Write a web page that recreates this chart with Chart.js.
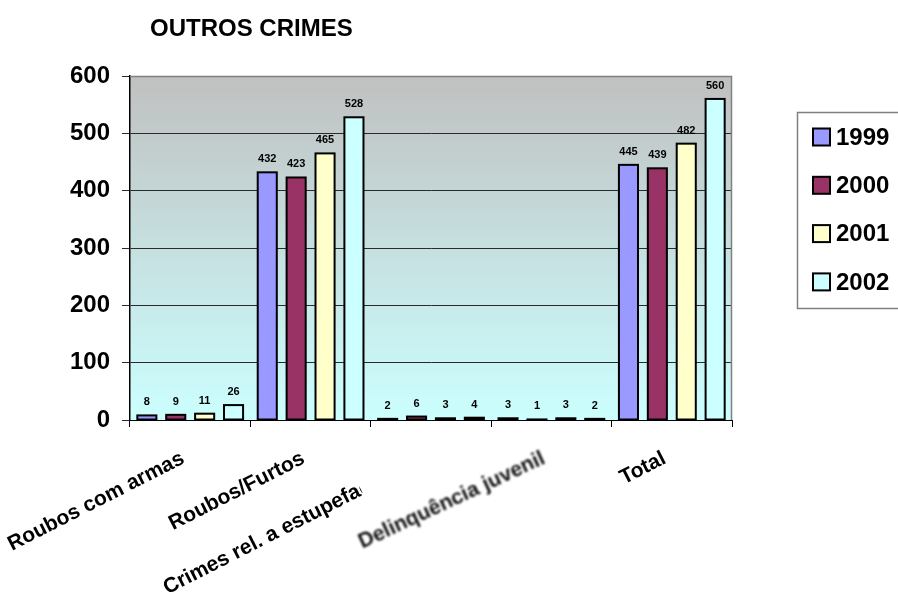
<!DOCTYPE html>
<html>
<head>
<meta charset="utf-8">
<title>OUTROS CRIMES</title>
<script src="https://cdn.jsdelivr.net/npm/chart.js@4/dist/chart.umd.min.js"></script>
<style>
  html, body { margin: 0; padding: 0; background: #ffffff; }
  #wrap { width: 898px; height: 603px; position: relative; }
</style>
</head>
<body>
<div id="wrap"><canvas id="chart"></canvas></div>
<script>
// Categories and yearly counts
const categories = ['Roubos com armas', 'Roubos/Furtos', 'Crimes rel. a estupefacientes', 'Delinquência juvenil', 'Total'];
const years = ['1999', '2000', '2001', '2002'];
const values1999 = [8, 432, 2, 3, 445];
const values2000 = [9, 423, 6, 1, 439];
const values2001 = [11, 465, 3, 3, 482];
const values2002 = [26, 528, 4, 2, 560];
const yTickValues = [0, 100, 200, 300, 400, 500, 600];

const seriesValues = [values1999, values2000, values2001, values2002];
const seriesColors = ['#9999ff', '#993366', '#ffffcc', '#ccffff'];

const FONT = '"Liberation Sans", Arial, sans-serif';

// Plot background: grey at the top fading to pale cyan at the bottom
const plotBackground = {
  id: 'plotBackground',
  beforeDraw(chart) {
    const { ctx, chartArea: a } = chart;
    const g = ctx.createLinearGradient(0, a.top, 0, a.bottom);
    g.addColorStop(0, '#c0c0c0');
    g.addColorStop(1, '#ccffff');
    ctx.save();
    ctx.fillStyle = g;
    ctx.fillRect(a.left, a.top, a.right - a.left, a.bottom - a.top);
    ctx.restore();
  },
  afterDraw(chart) {
    const { ctx, chartArea: a } = chart;
    ctx.save();
    ctx.strokeStyle = '#808080';
    ctx.lineWidth = 1.5;
    ctx.beginPath();
    ctx.moveTo(a.left, a.top + 0.5);
    ctx.lineTo(a.right - 0.5, a.top + 0.5);
    ctx.lineTo(a.right - 0.5, a.bottom);
    ctx.stroke();
    ctx.restore();
  }
};

// Black outline stroked on the bar edges, so even tiny bars stay visible
const barOutlines = {
  id: 'barOutlines',
  afterDatasetsDraw(chart) {
    const { ctx } = chart;
    ctx.save();
    ctx.strokeStyle = '#000';
    ctx.lineWidth = 2;
    chart.data.datasets.forEach((ds, di) => {
      chart.getDatasetMeta(di).data.forEach(bar => {
        const p = bar.getProps(['x', 'y', 'base', 'width'], true);
        const top = Math.min(p.y, p.base);
        const h = Math.abs(p.base - p.y);
        ctx.strokeRect(p.x - p.width / 2, top, p.width, h);
      });
    });
    ctx.restore();
  }
};

// Value printed above each bar
const barValues = {
  id: 'barValues',
  afterDatasetsDraw(chart) {
    const { ctx } = chart;
    ctx.save();
    ctx.font = 'bold 11px ' + FONT;
    ctx.fillStyle = '#000';
    ctx.textAlign = 'center';
    ctx.textBaseline = 'alphabetic';
    chart.data.datasets.forEach((ds, di) => {
      const meta = chart.getDatasetMeta(di);
      meta.data.forEach((bar, i) => {
        ctx.fillText(String(ds.data[i]), bar.x, bar.y - 10);
      });
    });
    ctx.restore();
  }
};

// Slanted category names under the x axis; overly long names are cut off
const slantedLabels = {
  id: 'slantedLabels',
  afterDraw(chart) {
    const { ctx } = chart;
    const x = chart.scales.x;
    const angle = -27 * Math.PI / 180;
    const maxLabelWidth = 220;
    const blurred = new Set(['Delinquência juvenil']);
    ctx.save();
    ctx.font = 'bold 21px ' + FONT;
    ctx.textAlign = 'right';
    ctx.textBaseline = 'top';
    chart.data.labels.forEach((label, i) => {
      const ax = x.getPixelForValue(i) - 12;
      const ay = x.top + 28;
      const w = ctx.measureText(label).width;
      ctx.save();
      ctx.translate(ax, ay);
      if (blurred.has(label)) {
        ctx.rotate(-25 * Math.PI / 180);
        ctx.filter = 'blur(0.8px)';
        ctx.fillStyle = '#111';
      } else {
        ctx.rotate(angle);
        ctx.fillStyle = '#000';
      }
      if (w > maxLabelWidth) {
        ctx.beginPath();
        ctx.rect(-w - 2, -6, maxLabelWidth + 2, 36);
        ctx.clip();
      }
      ctx.fillText(label, 0, 0);
      ctx.restore();
    });
    ctx.restore();
  }
};

// Boxed legend to the right of the plot
const sideLegend = {
  id: 'sideLegend',
  afterDraw(chart) {
    const { ctx, chartArea: a } = chart;
    const left = a.right + 65;
    const top = a.top + 36;
    const rowGap = 48.3;
    ctx.save();
    ctx.strokeStyle = '#808080';
    ctx.lineWidth = 1.5;
    ctx.strokeRect(left + 0.5, top + 0.5, 140, 196);
    ctx.font = 'bold 24px ' + FONT;
    ctx.textAlign = 'left';
    ctx.textBaseline = 'middle';
    chart.data.datasets.forEach((ds, i) => {
      const cy = top + 25 + i * rowGap;
      ctx.fillStyle = ds.backgroundColor;
      ctx.fillRect(left + 16, cy - 8.5, 17, 17);
      ctx.strokeStyle = '#000';
      ctx.lineWidth = 2;
      ctx.strokeRect(left + 16, cy - 8.5, 17, 17);
      ctx.fillStyle = '#000';
      ctx.fillText(ds.label, left + 39, cy + 1);
    });
    ctx.restore();
  }
};

// Chart title
const chartTitle = {
  id: 'chartTitle',
  afterDraw(chart) {
    const { ctx } = chart;
    ctx.save();
    ctx.font = 'bold 24px ' + FONT;
    ctx.fillStyle = '#000';
    ctx.textAlign = 'left';
    ctx.textBaseline = 'alphabetic';
    ctx.fillText('OUTROS CRIMES', 150, 36);
    ctx.restore();
  }
};

new Chart(document.getElementById('chart'), {
  type: 'bar',
  data: {
    labels: categories,
    datasets: years.map((y, i) => ({
      label: y,
      data: seriesValues[i],
      backgroundColor: seriesColors[i],
      borderWidth: 0,
      categoryPercentage: 0.96,
      barPercentage: 0.66
    }))
  },
  options: {
    responsive: true,
    maintainAspectRatio: false,
    animation: false,
    layout: { padding: { left: 0, top: 76, right: 166, bottom: 0 } },
    plugins: {
      legend: { display: false },
      title: { display: false },
      tooltip: { enabled: false }
    },
    scales: {
      x: {
        offset: true,
        ticks: { display: false },
        grid: {
          offset: true,
          drawOnChartArea: false,
          drawTicks: true,
          tickLength: 7,
          color: '#000',
          lineWidth: 1
        },
        border: { display: true, color: '#000', width: 1 },
        afterFit(scale) { scale.height = 183; }
      },
      y: {
        min: yTickValues[0],
        max: yTickValues[yTickValues.length - 1],
        afterBuildTicks(scale) { scale.ticks = yTickValues.map(v => ({ value: v })); },
        ticks: {
          padding: 12,
          color: '#000',
          font: { family: FONT, size: 24, weight: 'bold' }
        },
        grid: {
          drawTicks: true,
          tickLength: 8,
          color: '#2b2b2b',
          lineWidth: 1
        },
        border: { display: true, color: '#000', width: 1.5 },
        afterFit(scale) { scale.width = 130; }
      }
    }
  },
  plugins: [plotBackground, barOutlines, barValues, slantedLabels, sideLegend, chartTitle]
});
</script>
</body>
</html>
